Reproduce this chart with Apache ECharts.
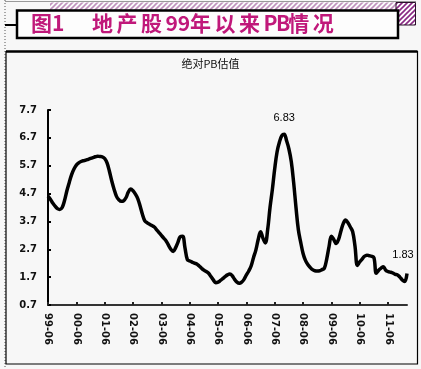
<!DOCTYPE html>
<html><head><meta charset="utf-8">
<script src="https://cdn.jsdelivr.net/npm/echarts@6/dist/echarts.min.js"></script>
<style>html,body{margin:0;padding:0;background:#f7f7f7;}#c{width:421px;height:369px;}</style>
</head><body><div id="c"></div>
<script>
// ---- data (monthly PB, 1999-06 .. 2012-02) ----
const startYear = 1999, startMonth = 6;
const pb1999 = [4.61, 4.50, 4.36, 4.25, 4.16, 4.13, 4.20];
const pb2000 = [4.45, 4.80, 5.10, 5.38, 5.58, 5.72, 5.80, 5.85, 5.88, 5.90, 5.93, 5.96];
const pb2001 = [5.99, 6.02, 6.04, 6.03, 6.02, 5.96, 5.80, 5.50, 5.15, 4.85, 4.60, 4.48];
const pb2002 = [4.42, 4.44, 4.55, 4.75, 4.86, 4.80, 4.68, 4.52, 4.25, 3.95, 3.72, 3.65];
const pb2003 = [3.60, 3.55, 3.50, 3.40, 3.30, 3.20, 3.10, 3.00, 2.85, 2.70, 2.62, 2.75];
const pb2004 = [2.95, 3.15, 3.17, 2.75, 2.33, 2.28, 2.24, 2.20, 2.17, 2.10, 2.02, 1.95];
const pb2005 = [1.90, 1.84, 1.72, 1.60, 1.50, 1.52, 1.58, 1.65, 1.72, 1.78, 1.81, 1.75];
const pb2006 = [1.62, 1.52, 1.48, 1.52, 1.62, 1.78, 1.92, 2.10, 2.40, 2.67, 3.05, 3.33];
const pb2007 = [3.10, 2.93, 3.40, 4.20, 4.85, 5.60, 6.20, 6.55, 6.78, 6.83, 6.60, 6.30];
const pb2008 = [5.85, 5.10, 4.20, 3.40, 2.95, 2.55, 2.30, 2.15, 2.05, 1.97, 1.93, 1.92];
const pb2009 = [1.93, 1.97, 2.02, 2.35, 2.80, 3.17, 3.05, 2.91, 3.05, 3.35, 3.62, 3.75];
const pb2010 = [3.65, 3.50, 3.33, 2.80, 2.12, 2.25, 2.35, 2.45, 2.49, 2.47, 2.45, 2.40];
const pb2011 = [1.84, 1.95, 2.02, 2.07, 1.95, 1.90, 1.88, 1.85, 1.80, 1.78, 1.70, 1.60];
const pb2012 = [1.54, 1.83];
const yTicks = [0.7, 1.7, 2.7, 3.7, 4.7, 5.7, 6.7, 7.7];
const titleMain = '图1';
const titleText = '地产股99年以来PB情况';
const subTitle = '绝对PB估值';

const values = [].concat(pb1999, pb2000, pb2001, pb2002, pb2003, pb2004, pb2005,
  pb2006, pb2007, pb2008, pb2009, pb2010, pb2011, pb2012);
const categories = values.map((v, i) => {
  const m = startMonth - 1 + i;
  const y = startYear + Math.floor(m / 12);
  const mm = (m % 12) + 1;
  return String(y % 100).padStart(2, '0') + '-' + String(mm).padStart(2, '0');
});
const peakIdx = values.indexOf(Math.max.apply(null, values));
const lastIdx = values.length - 1;
const lblFont = {fontFamily: 'Liberation Sans', fontSize: 11, color: '#000'};

// hatch pattern
const pc = document.createElement('canvas');
pc.width = 5; pc.height = 5;
const pctx = pc.getContext('2d');
pctx.fillStyle = '#ffffff'; pctx.fillRect(0, 0, 5, 5);
pctx.strokeStyle = '#8a2a84'; pctx.lineWidth = 1.6;
pctx.beginPath(); pctx.moveTo(-1, 6); pctx.lineTo(6, -1); pctx.moveTo(-1, 1); pctx.lineTo(1, -1); pctx.moveTo(4, 6); pctx.lineTo(6, 4); pctx.stroke();

// title characters laid out with spacing
const titleEls = [];
let tx = 92;
for (const ch of titleText) {
  titleEls.push({type: 'text', left: tx, top: 13, style: {text: ch, fontFamily: 'Noto Sans CJK SC', fontWeight: 'bold', fontSize: 21, fill: '#c0187a'}});
  tx += /[\u4e00-\u9fff]/.test(ch) ? 24.5 : 12.3;
}

const chart = echarts.init(document.getElementById('c'), null, {renderer: 'canvas'});
chart.setOption({
  backgroundColor: '#f7f7f7',
  animation: false,
  graphic: [
    {type: 'line', shape: {x1: 5, y1: 0, x2: 5, y2: 369}, style: {stroke: '#555', lineWidth: 1, lineDash: [1, 2]}},
    {type: 'line', shape: {x1: 5, y1: 1.5, x2: 416, y2: 1.5}, style: {stroke: '#999', lineWidth: 1}},
    {type: 'rect', shape: {x: 50, y: 2.5, width: 365.5, height: 22.5}, style: {fill: {image: pc, repeat: 'repeat'}, opacity: 0.5}},
    {type: 'rect', shape: {x: 396, y: 2.5, width: 19.5, height: 22.5}, style: {fill: {image: pc, repeat: 'repeat'}, stroke: '#2a0f2a', lineWidth: 1}},
    {type: 'line', shape: {x1: 5, y1: 25, x2: 17, y2: 25}, style: {stroke: '#000', lineWidth: 2}},
    {type: 'rect', shape: {x: 17, y: 10.5, width: 381, height: 27.5}, style: {fill: '#fdfdfd', stroke: '#000', lineWidth: 2.5}},
    {type: 'text', left: 31, top: 13, style: {text: titleMain, fontFamily: 'Noto Sans CJK SC', fontWeight: 'bold', fontSize: 21, fill: '#c0187a'}},
    ...titleEls,
    {type: 'rect', shape: {x: 6, y: 51.5, width: 411.5, height: 312.5}, style: {fill: 'none', stroke: '#000', lineWidth: 1.2}},
    {type: 'line', shape: {x1: 6, y1: 51.5, x2: 417.5, y2: 51.5}, style: {stroke: '#000', lineWidth: 2.5}},
    {type: 'text', left: 'center', top: 58, style: {text: subTitle, fontFamily: 'Noto Sans CJK SC', fontSize: 11, fill: '#111'}}
  ],
  grid: {left: 48, right: 14, top: 110, bottom: 64},
  xAxis: {
    type: 'category', data: categories, boundaryGap: false,
    axisLine: {lineStyle: {color: '#333', width: 2}},
    axisTick: {inside: true, length: 3, interval: (i) => i % 12 === 0, lineStyle: {color: '#222', width: 2}},
    axisLabel: {interval: (i) => i % 12 === 0, rotate: -90, margin: 8, fontFamily: 'DejaVu Sans', fontWeight: 'bold', fontSize: 10, color: '#111'},
    splitLine: {show: false}
  },
  yAxis: {
    type: 'value', min: yTicks[0], max: yTicks[yTicks.length - 1], interval: 1,
    axisLine: {show: true, lineStyle: {color: '#000', width: 2}},
    axisTick: {show: true, inside: true, length: 3, lineStyle: {color: '#000', width: 2}},
    axisLabel: {margin: 11, formatter: (v) => v.toFixed(1), fontFamily: 'DejaVu Sans', fontWeight: 'bold', fontSize: 10, color: '#111'},
    splitLine: {show: false}
  },
  series: [{
    type: 'line', data: values, smooth: 0.4, symbol: 'none',
    lineStyle: {color: '#000', width: 3.5},
    markPoint: {
      symbol: 'circle', symbolSize: 0.01,
      itemStyle: {color: 'rgba(0,0,0,0)'},
      data: [
        {coord: [peakIdx, values[peakIdx]], value: values[peakIdx],
         label: Object.assign({show: true, position: 'top', distance: 11, formatter: values[peakIdx].toFixed(2)}, lblFont)},
        {coord: [lastIdx, values[lastIdx]], value: values[lastIdx],
         label: Object.assign({show: true, position: 'top', distance: 13, offset: [-4, 0], formatter: values[lastIdx].toFixed(2)}, lblFont)}
      ]
    }
  }]
});
</script></body></html>
